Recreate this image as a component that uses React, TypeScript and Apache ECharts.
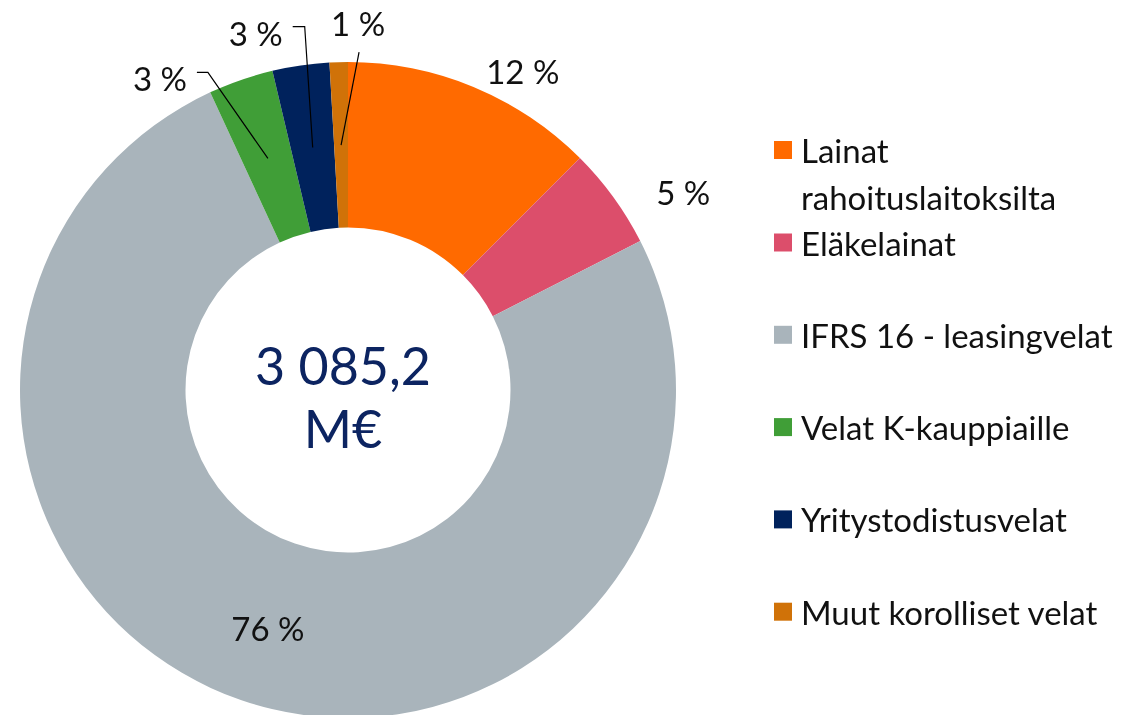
import React, { useEffect, useRef } from "react";
import * as echarts from "echarts";

// ---- data ----
const categories = [
  "Lainat rahoituslaitoksilta",
  "Eläkelainat",
  "IFRS 16 - leasingvelat",
  "Velat K-kauppiaille",
  "Yritystodistusvelat",
  "Muut korolliset velat",
];
// estimated amounts, M€ (total 3 085,2)
const valuesMEUR = [385.6, 154.3, 2332.4, 98.7, 86.4, 27.8];
const totalText = ["3 085,2", "M€"];

// ---- style ----
const colors = ["#FF6A00", "#DC4E6B", "#A9B4BB", "#409E37", "#00225C", "#D07208"];
const FONT = "Lato";
const TEXT_COLOR = "#111111";
const NAVY_TEXT = "#0C2461";

// label placement relative to the leader anchor (computed by the library at the slice mid-angle)
const labelOffsets: { label: [number, number]; line?: [number, number][] }[] = [
  { label: [81, -93] },
  { label: [137, -54] },
  { label: [0, 6] },
  { label: [-108, -80], line: [[-60, -86], [-71, -86]] },
  { label: [-57, -115], line: [[-8, -121], [-20, -121]] },
  { label: [17, -122], line: [[18, -93]] },
];

export default function App() {
  const ref = useRef<HTMLDivElement>(null);
  useEffect(() => {
    if (!ref.current) return;
    const chart = echarts.init(ref.current, undefined, { renderer: "svg" });
    const center = [348, 390];
    const data = categories.map((name, i) => ({
      name,
      value: valuesMEUR[i],
      itemStyle: { color: colors[i] },
    }));
    const overlayData = categories.map((name, i) => ({
      name,
      value: valuesMEUR[i],
      itemStyle: { color: "rgba(0,0,0,0)" },
    }));
    const legendText = {
      fontFamily: FONT,
      fontSize: 33,
      color: TEXT_COLOR,
      lineHeight: 47,
      padding: [0, 0, 0, 4],
    };
    chart.setOption({
      animation: false,
      legend: [
        {
          orient: "vertical",
          left: 774,
          top: 79.5,
          padding: 0,
          itemWidth: 18,
          itemHeight: 18,
          icon: "rect",
          selectedMode: false,
          data: [categories[0]],
          formatter: (name: string) => "\n" + name.replace(" ", "\n"),
          textStyle: legendText,
        },
        {
          orient: "vertical",
          left: 774,
          top: 219,
          padding: 0,
          itemGap: 45.3,
          itemWidth: 18,
          itemHeight: 18,
          icon: "rect",
          selectedMode: false,
          data: categories.slice(1),
          textStyle: legendText,
        },
      ],
      graphic: [
        {
          type: "text",
          x: 343,
          y: 396,
          z: 10,
          style: {
            text: totalText.join("\n"),
            fill: NAVY_TEXT,
            font: `52px ${FONT}`,
            lineHeight: 63,
            align: "center",
            verticalAlign: "middle",
          },
        },
      ],
      series: [
        {
          type: "pie",
          z: 2,
          center,
          radius: [162.5, 328],
          startAngle: 90,
          clockwise: true,
          avoidLabelOverlap: false,
          label: { show: false },
          labelLine: { show: false },
          emphasis: { disabled: true },
          data,
        },
        {
          type: "pie",
          z: 5,
          center,
          radius: [0, 245],
          startAngle: 90,
          clockwise: true,
          silent: true,
          avoidLabelOverlap: false,
          percentPrecision: 0,
          emphasis: { disabled: true },
          label: {
            show: true,
            position: "outside",
            formatter: "{d} %",
            fontFamily: FONT,
            fontSize: 33,
            color: TEXT_COLOR,
          },
          labelLine: {
            show: true,
            length: 20,
            length2: 10,
            lineStyle: { color: "#000000", width: 1.2 },
          },
          labelLayout: (params: any) => {
            const pts = params.labelLinePoints;
            if (!pts || !pts.length) return {};
            const [x0, y0] = pts[0];
            const o = labelOffsets[params.dataIndex];
            const line = o.line
              ? [[x0, y0], ...o.line.map(([dx, dy]) => [x0 + dx, y0 + dy])]
              : [[x0, y0], [x0, y0]];
            return {
              x: x0 + o.label[0],
              y: y0 + o.label[1],
              align: "center",
              verticalAlign: "middle",
              labelLinePoints: line,
            };
          },
          data: overlayData,
        },
      ],
    });
    return () => chart.dispose();
  }, []);
  return (
    <div
      ref={ref}
      style={{ position: "fixed", left: 0, top: 0, width: 1140, height: 715 }}
    />
  );
}
